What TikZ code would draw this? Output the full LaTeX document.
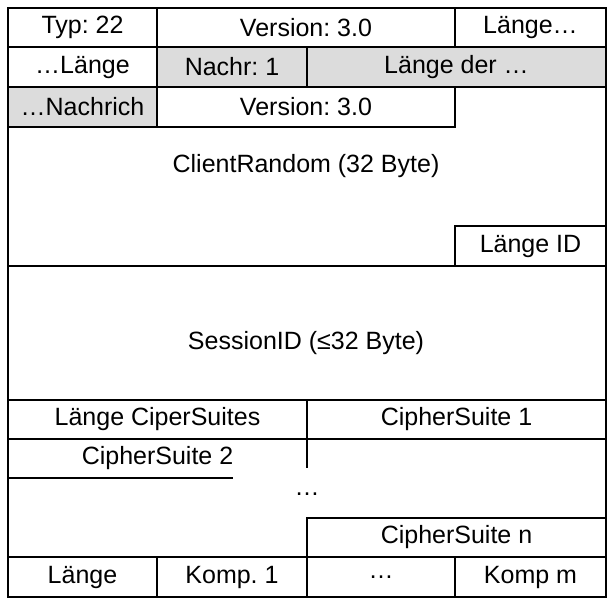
\documentclass[tikz,border=0pt]{standalone}
\usepackage{fontspec}
\setmainfont{Liberation Sans}
\definecolor{cellgray}{RGB}{220,220,220}
\frenchspacing
\begin{document}
\begin{tikzpicture}[x=1pt,y=-1pt,
  every node/.style={font=\fontsize{25}{29}\selectfont\frenchspacing},
  cell/.style={draw, line width=1.5pt, inner sep=0pt, anchor=center},
  shaded/.style={cell, fill=cellgray},
  plain/.style={inner sep=0pt},
  frame/.style={line width=1.5pt}]
\useasboundingbox (0,0) rectangle (614,606);
% row 1
\node[cell, minimum width=149pt, minimum height=39pt] (typ) at (82.5,27.5) {Typ: 22};
\node[cell, minimum width=298pt, minimum height=39pt] (ver1) at (306,27.5) {Version: 3.0};
\node[cell, minimum width=151pt, minimum height=39pt] (len1) at (530.5,27.5) {Länge…};
% row 2
\node[cell, minimum width=149pt, minimum height=40pt] (len2) at (82.5,67) {…Länge};
\node[shaded, minimum width=150pt, minimum height=40pt] (nachr) at (232,67) {Nachr: 1};
\node[shaded, minimum width=299pt, minimum height=40pt] (lender) at (456.5,67) {Länge der …};
% row 3
\node[shaded, minimum width=149pt, minimum height=40pt] (nachrich) at (82.5,107) {…Nachrich};
\node[cell, minimum width=298pt, minimum height=40pt] (ver2) at (306,107) {Version: 3.0};
% client random
\node[plain] (crand) at (306,166) {ClientRandom (32 Byte)};
\node[cell, minimum width=151pt, minimum height=40pt] (lenid) at (530.5,246) {Länge ID};
\draw[frame] (8,266) -- (606,266);
% session
\node[plain] (sess) at (306,343) {SessionID (≤32 Byte)};
% cipher suites
\node[cell, minimum width=299pt, minimum height=39pt] (lencs) at (157.5,419.5) {Länge CiperSuites};
\node[cell, minimum width=299pt, minimum height=39pt] (cs1) at (456.5,419.5) {CipherSuite 1};
\node[plain] (cs2) at (157.5,458.5) {CipherSuite 2};
\coordinate (cs2end) at (233,478);
\coordinate (cs2start) at (8,478);
\draw[frame] (cs2start) -- (cs2end);
\coordinate (vtop) at (307,439);
\coordinate (vbot) at (307,468);
\draw[frame] (vtop) -- (vbot);
\node[plain] (dots) at (307,494) {…};
\node[cell, minimum width=299pt, minimum height=39pt] (csn) at (456.5,537.5) {CipherSuite n};
% bottom row
\node[cell, minimum width=149pt, minimum height=40pt] (lenk) at (82.5,577) {Länge};
\node[cell, minimum width=150pt, minimum height=40pt] (k1) at (232,577) {Komp. 1};
\node[cell, minimum width=148pt, minimum height=40pt] (kdots) at (381,577) {…};
\node[cell, minimum width=151pt, minimum height=40pt] (km) at (530.5,577) {Komp m};
% outer frame
\draw[frame] (8,8) rectangle (606,597);
\end{tikzpicture}
\end{document}
